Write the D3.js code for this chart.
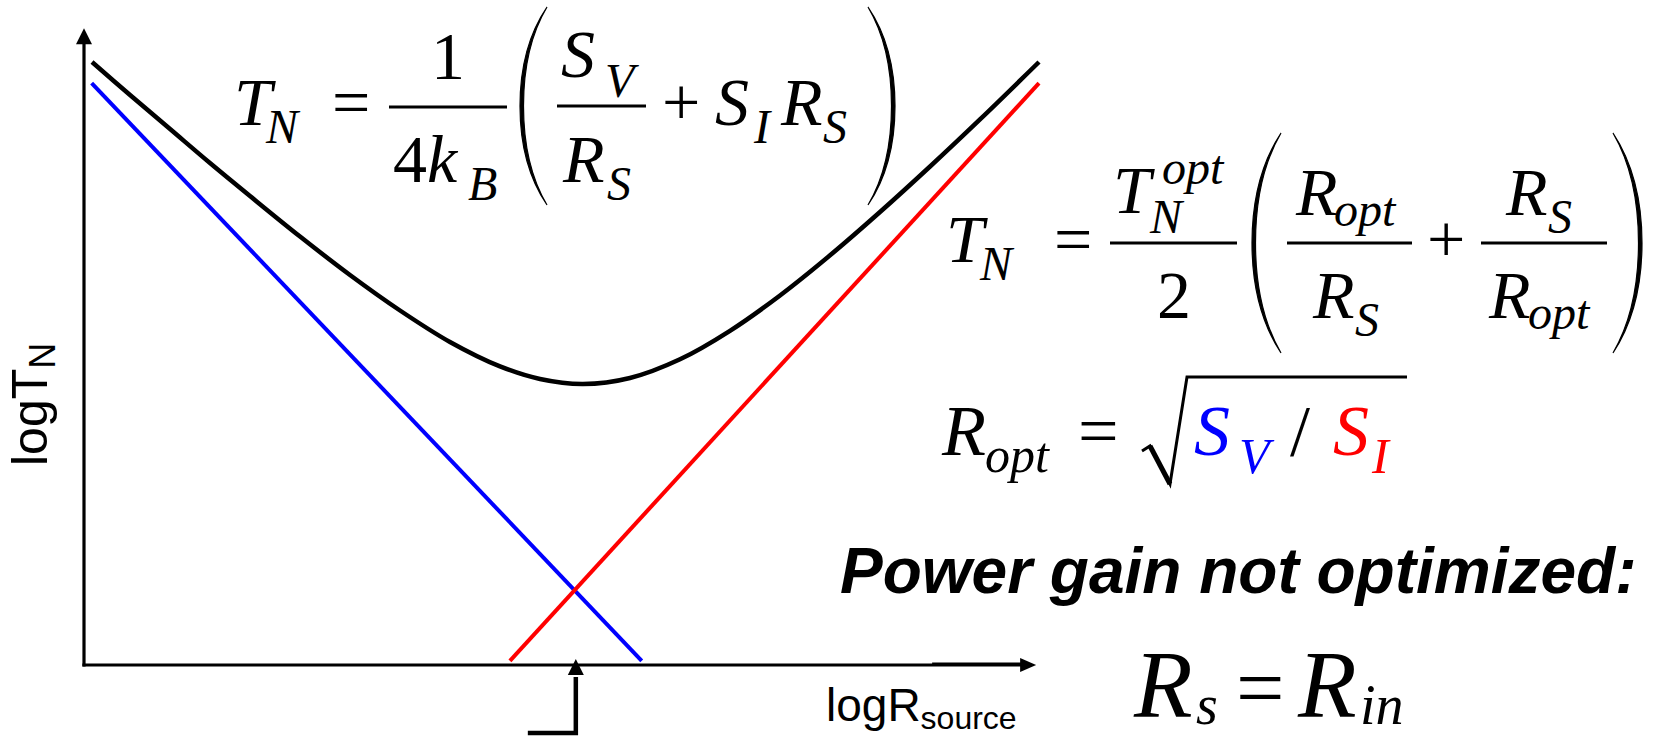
<!DOCTYPE html>
<html>
<head>
<meta charset="utf-8">
<script src="https://cdn.jsdelivr.net/npm/d3@7"></script>
<style>
  html, body { margin: 0; padding: 0; background: #fff; }
  svg { display: block; }
</style>
</head>
<body>
<svg id="chart" width="1656" height="738"></svg>
<script>
// Noise temperature vs. source resistance (log-log sketch)
// x: log R_source, y: log T_N, both in arbitrary decades

// Voltage-noise term S_V / R_S (falls with R_S)
const voltageTermX = [0.08, 5.84];
const voltageTermY = [9.65, 0.07];

// Current-noise term S_I R_S (rises with R_S)
const currentTermX = [4.46, 10.0];
const currentTermY = [0.07, 9.65];

// Total noise temperature T_N
const totalX = [0.084, 0.482, 0.901, 1.319, 1.738, 2.262, 2.785, 3.309, 3.832, 4.356, 4.775, 5.225,
                5.717, 6.241, 6.764, 7.288, 7.812, 8.335, 8.859, 9.382, 10.0];
const totalY = [10.0, 9.453, 8.889, 8.325, 7.778, 7.106, 6.468, 5.879, 5.357, 4.952, 4.743, 4.660,
                4.760, 5.070, 5.542, 6.128, 6.794, 7.512, 8.267, 9.048, 10.0];

// Optimum source resistance (where the two terms are equal)
const rOptX = [5.15];

// Axis extents
const axisEndX = 9.97;
const axisEndY = 10.56;

const svg = d3.select('#chart');
const x = d3.scaleLinear().domain([0, 10]).range([84, 1039]);
const y = d3.scaleLinear().domain([0, 10]).range([665, 62]);

const zip = (xs, ys) => xs.map((v, i) => [v, ys[i]]);
const line = d3.line().x(d => x(d[0])).y(d => y(d[1]));
const smooth = d3.line().x(d => x(d[0])).y(d => y(d[1])).curve(d3.curveCatmullRom.alpha(0.5));

const plot = svg.append('g');

// Axes with arrowheads
const axisColor = '#000';
plot.append('line')
  .attr('x1', x(0)).attr('y1', y(0) + 1.5)
  .attr('x2', x(0)).attr('y2', y(axisEndY) + 12)
  .attr('stroke', axisColor).attr('stroke-width', 3.2);
plot.append('path')
  .attr('d', `M${x(0)},${y(axisEndY)} L${x(0) - 8},${y(axisEndY) + 16} L${x(0) + 8},${y(axisEndY) + 16} Z`)
  .attr('fill', axisColor);

plot.append('line')
  .attr('x1', x(0) - 1.6).attr('y1', y(0))
  .attr('x2', x(axisEndX) - 12).attr('y2', y(0))
  .attr('stroke', axisColor).attr('stroke-width', 3.2);
// short doubled stroke near the arrow end
plot.append('line')
  .attr('x1', x(axisEndX) - 104).attr('y1', y(0) - 0.8)
  .attr('x2', x(axisEndX) - 12).attr('y2', y(0) - 0.8)
  .attr('stroke', axisColor).attr('stroke-width', 3.4);
plot.append('path')
  .attr('d', `M${x(axisEndX)},${y(0)} L${x(axisEndX) - 16},${y(0) - 7} L${x(axisEndX) - 16},${y(0) + 7} Z`)
  .attr('fill', axisColor);

// Noise terms
plot.append('path').datum(zip(voltageTermX, voltageTermY))
  .attr('d', line).attr('fill', 'none').attr('stroke', '#0000ff').attr('stroke-width', 4);
plot.append('path').datum(zip(currentTermX, currentTermY))
  .attr('d', line).attr('fill', 'none').attr('stroke', '#ff0000').attr('stroke-width', 4);

// Total
plot.append('path').datum(zip(totalX, totalY))
  .attr('d', smooth).attr('fill', 'none').attr('stroke', '#000').attr('stroke-width', 4.5);

// R_opt marker arrow below the axis
const mx = x(rOptX[0]);
plot.append('path')
  .attr('d', `M${mx - 48},733 L${mx},733 L${mx},${y(0) + 12}`)
  .attr('fill', 'none').attr('stroke', '#000').attr('stroke-width', 4.5);
plot.append('path')
  .attr('d', `M${mx},${y(0) - 6} L${mx - 8},${y(0) + 10} L${mx + 8},${y(0) + 10} Z`)
  .attr('fill', '#000');

// ---------- Text ----------
const serif = '"Liberation Serif", "Times New Roman", serif';
const sans = '"Liberation Sans", Arial, sans-serif';
const txt = svg.append('g');

function put(xp, yp, s, size, opts = {}) {
  return txt.append('text')
    .attr('x', xp).attr('y', yp)
    .attr('font-family', opts.family || serif)
    .attr('font-size', size)
    .attr('font-style', opts.italic === false ? 'normal' : 'italic')
    .attr('font-weight', opts.bold ? 'bold' : 'normal')
    .attr('text-anchor', opts.anchor || 'start')
    .attr('fill', opts.color || '#000')
    .text(s);
}
function bar(x1, x2, yy) {
  txt.append('line').attr('x1', x1).attr('x2', x2).attr('y1', yy).attr('y2', yy)
    .attr('stroke', '#000').attr('stroke-width', 3);
}
// tall parenthesis drawn from its tip x (xEnd) and its belly x (xMid)
function paren(xEnd, xMid, top, bottom) {
  const h = bottom - top;
  const dir = Math.sign(xMid - xEnd);
  const xi = xMid - dir * 3.5;
  const d = `M${xEnd},${top} Q${xMid},${top + h * 0.2} ${xMid},${top + h / 2} Q${xMid},${bottom - h * 0.2} ${xEnd},${bottom}` +
            ` Q${xi},${bottom - h * 0.2} ${xi},${top + h / 2} Q${xi},${top + h * 0.2} ${xEnd},${top} Z`;
  txt.append('path').attr('d', d).attr('fill', '#000').attr('stroke', '#000').attr('stroke-width', 1.2);
}

const M = 68, S = 48;

// T_N = 1/(4k_B) (S_V/R_S + S_I R_S)
put(234, 125, 'T', M);
put(266, 143, 'N', S);
put(332, 125, '=', M, { italic: false });
bar(389, 507, 107);
put(448, 79, '1', M, { italic: false, anchor: 'middle' });
put(393, 182, '4', M, { italic: false });
put(427, 182, 'k', M);
put(468, 200, 'B', S);
paren(547, 520, 7, 205);
put(561, 77, 'S', M);
put(605, 97, 'V', S);
bar(557, 646, 106);
put(563, 182, 'R', M);
put(607, 200, 'S', S);
put(662, 125, '+', M, { italic: false });
put(715, 125, 'S', M);
put(754, 143, 'I', S);
put(781, 125, 'R', M);
put(823, 143, 'S', S);
paren(868, 895, 7, 205);

// T_N = T_N^opt/2 (R_opt/R_S + R_S/R_opt)
put(946, 262, 'T', M);
put(980, 280, 'N', S);
put(1054, 262, '=', M, { italic: false });
bar(1110, 1237, 243);
put(1113, 213, 'T', M);
put(1150, 233, 'N', S);
put(1162, 184, 'opt', S);
put(1174, 318, '2', M, { italic: false, anchor: 'middle' });
paren(1281, 1252, 133, 353);
put(1296, 215, 'R', M);
put(1334, 226, 'opt', S);
bar(1287, 1412, 243);
put(1313, 318, 'R', M);
put(1355, 336, 'S', S);
put(1427, 262, '+', M, { italic: false });
bar(1481, 1607, 243);
put(1506, 215, 'R', M);
put(1548, 233, 'S', S);
put(1489, 318, 'R', M);
put(1528, 329, 'opt', S);
paren(1613, 1642, 133, 353);

// R_opt = sqrt(S_V / S_I)
const M3 = 72, S3 = 50;
put(942, 455, 'R', M3);
put(985, 472, 'opt', S3);
put(1078, 455, '=', M3, { italic: false });
txt.append('path')
  .attr('d', 'M1142,451 L1150,446 L1170,484 L1187,377 L1407,377')
  .attr('fill', 'none').attr('stroke', '#000').attr('stroke-width', 3).attr('stroke-linejoin', 'miter');
txt.append('path')
  .attr('d', 'M1150,446 L1170,484')
  .attr('fill', 'none').attr('stroke', '#000').attr('stroke-width', 5);
put(1194, 455, 'S', M3, { color: '#0000ff' });
put(1239, 473, 'V', S3, { color: '#0000ff' });
put(1290, 455, '/', M3, { italic: false });
put(1333, 455, 'S', M3, { color: '#ff0000' });
put(1372, 473, 'I', S3, { color: '#ff0000' });

// Caption
put(840, 593, 'Power gain not optimized:', 64, { family: sans, bold: true });

// R_s = R_in
put(1134, 717, 'R', 96);
put(1196, 724, 's', 56);
put(1236, 717, '=', 86, { italic: false });
put(1298, 717, 'R', 96);
put(1360, 724, 'in', 56);

// Axis titles
const xt = put(826, 721, 'logR', 46, { family: sans, italic: false });
xt.append('tspan').attr('font-size', 32).attr('dy', 8).text('source');

const yt = put(47, 466, 'logT', 50, { family: sans, italic: false })
  .attr('transform', 'rotate(-90, 47, 466)');
yt.append('tspan').attr('font-size', 36).attr('dy', 8).text('N');
</script>
</body>
</html>
